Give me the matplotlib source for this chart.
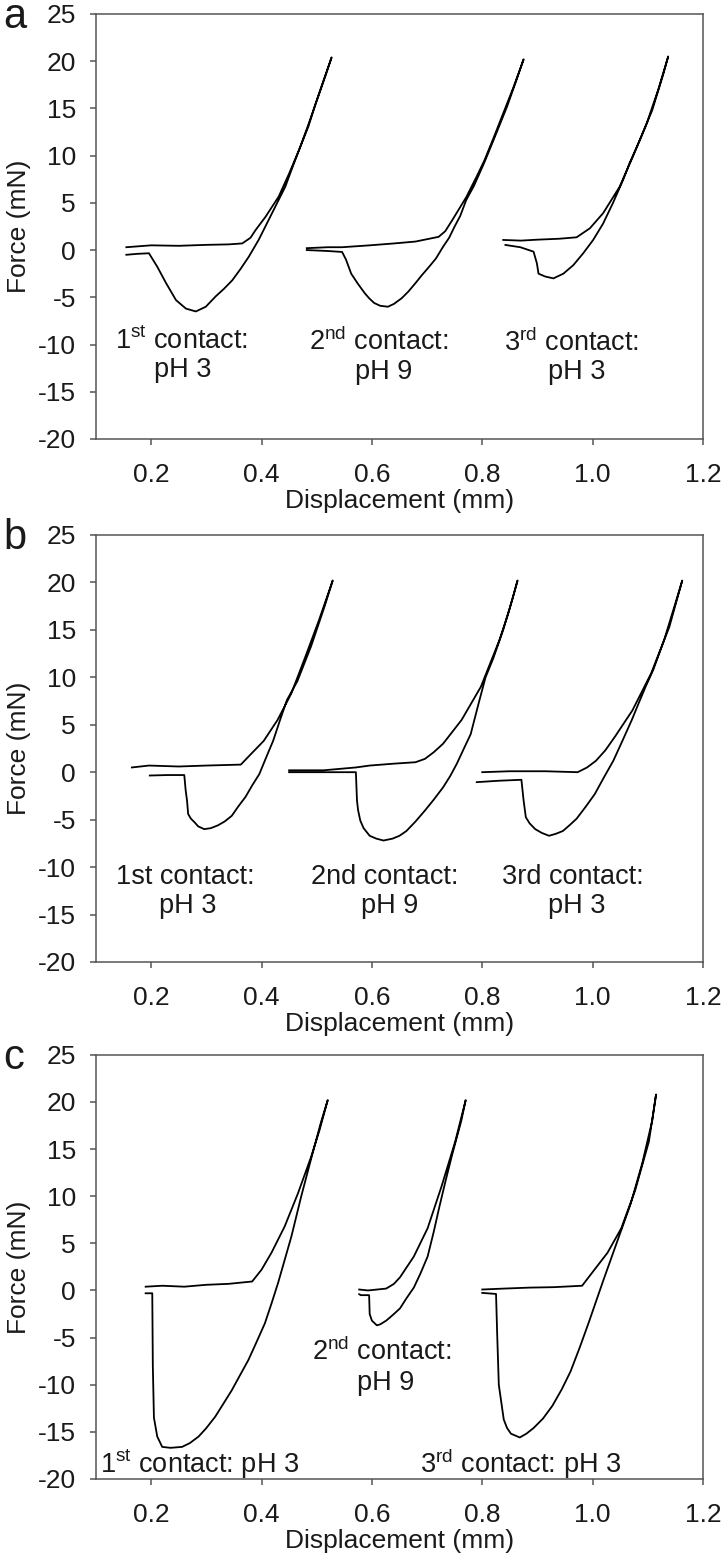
import matplotlib
matplotlib.use('Agg')
import matplotlib.pyplot as plt

plt.rcParams['font.family'] = ['Liberation Sans', 'DejaVu Sans']
plt.rcParams['mathtext.fontset'] = 'custom'
plt.rcParams['mathtext.rm'] = 'Liberation Sans'
plt.rcParams['mathtext.it'] = 'Liberation Sans:italic'
plt.rcParams['mathtext.bf'] = 'Liberation Sans:bold'
plt.rcParams['axes.unicode_minus'] = False

# each loop = approach (upper branch) then retraction (lower branch)
# panel a
a1_x = [0.155, 0.20, 0.25, 0.30, 0.34, 0.365, 0.38, 0.389, 0.407, 0.431, 0.45, 0.468, 0.485, 0.498, 0.512, 0.527,
        0.515, 0.50, 0.485, 0.47, 0.455, 0.443, 0.431, 0.419, 0.407, 0.395, 0.377, 0.362, 0.347, 0.332, 0.317,
        0.299, 0.281, 0.263, 0.245, 0.227, 0.211, 0.196, 0.175, 0.155]
a1_y = [0.3, 0.5, 0.45, 0.55, 0.6, 0.7, 1.3, 2.1, 3.5, 5.65, 8.1, 10.6, 13.1, 15.5, 17.9, 20.4,
        18.3, 15.8, 13.3, 10.9, 8.6, 6.7, 5.3, 3.9, 2.5, 1.1, -0.7, -2.0, -3.2, -4.1, -4.9,
        -6.0, -6.5, -6.2, -5.3, -3.5, -1.76, -0.34, -0.4, -0.5]
a2_x = [0.482, 0.52, 0.546, 0.596, 0.64, 0.679, 0.721, 0.733, 0.746, 0.771, 0.79, 0.804, 0.82, 0.8375, 0.857, 0.875,
        0.862, 0.845, 0.825, 0.804, 0.785, 0.771, 0.76, 0.75, 0.74, 0.729, 0.716, 0.704, 0.69, 0.679, 0.666,
        0.654, 0.64, 0.629, 0.615, 0.604, 0.595, 0.5875, 0.575, 0.5625, 0.553, 0.546, 0.52, 0.482]
a2_y = [0.2, 0.3, 0.3, 0.5, 0.7, 0.9, 1.4, 2.0, 3.2, 5.6, 7.8, 9.5, 11.8, 14.4, 17.3, 20.2,
        18.0, 15.2, 12.3, 9.3, 6.8, 5.3, 3.6, 2.5, 1.3, 0.35, -0.9, -1.75, -2.7, -3.5, -4.4,
        -5.1, -5.7, -6.0, -5.9, -5.6, -5.1, -4.6, -3.6, -2.5, -1.0, -0.2, -0.1, 0.0]
a3_x = [0.838, 0.87, 0.90, 0.94, 0.971, 0.995, 1.019, 1.049, 1.073, 1.098, 1.119, 1.137,
        1.128, 1.108, 1.086, 1.067, 1.055, 1.037, 1.019, 1.001, 0.983, 0.965, 0.947, 0.929, 0.914,
        0.902, 0.899, 0.893, 0.869, 0.842]
a3_y = [1.07, 1.0, 1.1, 1.2, 1.35, 2.3, 3.9, 6.7, 9.9, 13.4, 17.0, 20.5,
        18.6, 14.8, 11.7, 9.2, 7.4, 5.0, 2.8, 1.07, -0.34, -1.6, -2.5, -3.0, -2.8,
        -2.5, -1.4, -0.17, 0.3, 0.54]

# panel b
b1_x = [0.165, 0.196, 0.25, 0.30, 0.3625, 0.379, 0.404, 0.429, 0.454, 0.479, 0.504, 0.529,
        0.515, 0.49, 0.465, 0.446, 0.433, 0.421, 0.408, 0.396, 0.383, 0.371, 0.358, 0.346, 0.333,
        0.321, 0.308, 0.296, 0.285, 0.279, 0.272, 0.267, 0.265, 0.2625, 0.26, 0.23, 0.1975]
b1_y = [0.5, 0.7, 0.6, 0.7, 0.8, 1.8, 3.3, 5.5, 8.3, 12.1, 16.0, 20.2,
        17.6, 13.3, 9.6, 7.6, 5.4, 3.3, 1.5, -0.2, -1.4, -2.6, -3.6, -4.6, -5.2,
        -5.6, -5.9, -6.0, -5.7, -5.3, -4.9, -4.4, -3.0, -1.9, -0.3, -0.3, -0.35]
b2_x = [0.45, 0.5125, 0.571, 0.596, 0.64, 0.679, 0.696, 0.712, 0.729, 0.7625, 0.7975, 0.831, 0.848, 0.864,
        0.855, 0.838, 0.82, 0.806, 0.795, 0.787, 0.779, 0.766, 0.754, 0.742, 0.729, 0.712, 0.696, 0.679,
        0.6625, 0.65, 0.6375, 0.621, 0.608, 0.596, 0.585, 0.579, 0.575, 0.573, 0.571, 0.52, 0.45]
b2_y = [0.2, 0.2, 0.5, 0.7, 0.9, 1.05, 1.4, 2.1, 3.0, 5.5, 9.0, 13.9, 16.9, 20.2,
        18.3, 15.0, 12.0, 10.0, 7.6, 5.8, 4.0, 2.4, 0.9, -0.4, -1.6, -2.9, -4.05, -5.2,
        -6.2, -6.7, -7.0, -7.2, -7.0, -6.7, -5.9, -5.1, -4.0, -3.0, 0.0, 0.0, 0.0]
b3_x = [0.80, 0.85, 0.914, 0.973, 0.99, 1.006, 1.023, 1.04, 1.072, 1.106, 1.139, 1.1625,
        1.15, 1.13, 1.11, 1.096, 1.083, 1.071, 1.054, 1.0375, 1.02, 1.004, 0.988, 0.971, 0.958,
        0.946, 0.933, 0.921, 0.908, 0.896, 0.886, 0.879, 0.875, 0.871, 0.83, 0.79]
b3_y = [0.0, 0.1, 0.1, 0.0, 0.5, 1.2, 2.3, 3.7, 6.5, 10.4, 15.3, 20.2,
        17.8, 14.0, 10.8, 9.0, 7.2, 5.5, 3.3, 1.2, -0.6, -2.3, -3.6, -4.9, -5.6,
        -6.2, -6.5, -6.7, -6.4, -6.0, -5.4, -4.75, -3.0, -0.8, -0.9, -1.05]

# panel c
c1_x = [0.19, 0.22, 0.26, 0.30, 0.34, 0.383, 0.40, 0.418, 0.442, 0.466, 0.49, 0.505, 0.52,
        0.508, 0.49, 0.472, 0.454, 0.43, 0.418, 0.406, 0.39, 0.376, 0.36, 0.346, 0.33, 0.316,
        0.30, 0.286, 0.27, 0.256, 0.235, 0.22, 0.211, 0.205, 0.203, 0.202, 0.19]
c1_y = [0.4, 0.5, 0.4, 0.6, 0.7, 0.95, 2.2, 4.0, 6.8, 10.3, 14.2, 17.0, 20.2,
        17.9, 14.0, 10.0, 5.7, 0.8, -1.4, -3.5, -5.6, -7.4, -9.1, -10.6, -12.1, -13.4,
        -14.6, -15.5, -16.2, -16.6, -16.7, -16.6, -15.5, -13.5, -8.0, -0.3, -0.3]
c2_x = [0.577, 0.593, 0.626, 0.64, 0.651, 0.676, 0.701, 0.726, 0.751, 0.77,
        0.762, 0.745, 0.733, 0.722, 0.712, 0.701, 0.688, 0.676, 0.663, 0.651, 0.638, 0.626,
        0.615, 0.609, 0.60, 0.596, 0.595, 0.58, 0.577]
c2_y = [0.1, 0.0, 0.2, 0.7, 1.4, 3.6, 6.6, 11.0, 15.8, 20.2,
        18.0, 14.3, 11.5, 8.8, 6.2, 3.6, 1.8, 0.3, -0.8, -1.9, -2.6, -3.2,
        -3.6, -3.7, -3.2, -2.5, -0.5, -0.5, -0.4]
c3_x = [0.80, 0.84, 0.885, 0.93, 0.981, 1.002, 1.027, 1.052, 1.077, 1.102, 1.115,
        1.108, 1.09, 1.069, 1.044, 1.019, 0.993, 0.977, 0.96, 0.944, 0.927, 0.91, 0.893,
        0.88, 0.868, 0.852, 0.845, 0.839, 0.83, 0.827, 0.825, 0.80]
c3_y = [0.1, 0.2, 0.3, 0.35, 0.5, 2.1, 4.0, 6.6, 10.6, 15.8, 20.8,
        18.0, 13.5, 9.2, 5.1, 1.0, -3.4, -6.0, -8.6, -10.5, -12.25, -13.6, -14.6,
        -15.2, -15.6, -15.2, -14.6, -13.7, -10.0, -4.5, -0.37, -0.26]

panel_labels = ['a', 'b', 'c']
x_ticks = [0.2, 0.4, 0.6, 0.8, 1.0, 1.2]
x_ticklabels = ['0.2', '0.4', '0.6', '0.8', '1.0', '1.2']
y_ticks = [-20, -15, -10, -5, 0, 5, 10, 15, 20, 25]

loops = [
    [(a1_x, a1_y), (a2_x, a2_y), (a3_x, a3_y)],
    [(b1_x, b1_y), (b2_x, b2_y), (b3_x, b3_y)],
    [(c1_x, c1_y), (c2_x, c2_y), (c3_x, c3_y)],
]

gray = '#555555'
txt = '#1a1a1a'
fs = 19
afs = 19.5

fig = plt.figure(figsize=(7.25, 15.66), dpi=100)
rects = [[0.1324, 0.7197, 0.8372, 0.2714],
         [0.1324, 0.3857, 0.8372, 0.2727],
         [0.1324, 0.0556, 0.8372, 0.2708]]
axes = []
for i, r in enumerate(rects):
    ax = fig.add_axes(r)
    for (x, y) in loops[i]:
        ax.plot(x, y, color='black', lw=1.3)
    ax.set_xlim(0.1, 1.2)
    ax.set_ylim(-20, 25)
    ax.set_xticks(x_ticks)
    ax.set_xticklabels(x_ticklabels)
    ax.set_yticks(y_ticks)
    for s in ax.spines.values():
        s.set_color(gray)
        s.set_linewidth(1.1)
    ax.tick_params(direction='out', length=4.5, width=1.1, color=gray, labelcolor=txt,
                   labelsize=fs, top=False, right=False)
    ax.tick_params(axis='y', pad=10)
    ax.tick_params(axis='x', pad=13)
    ax.set_xlabel('Displacement (mm)', fontsize=fs, color=txt, labelpad=1)
    ax.set_ylabel('Force (mN)', fontsize=fs, color=txt, labelpad=5)
    fig.text(0.004, r[1] + r[3] - 14 / 1566, panel_labels[i], fontsize=30, color=txt,
             ha='left', va='baseline')
    axes.append(ax)

ax_a, ax_b, ax_c = axes
kw = dict(fontsize=afs, color=txt, ha='center', va='baseline')
ax_a.text(0.255, -10.5, r'1$^{\rm st}$ contact:', **kw)
ax_a.text(0.258, -13.4, 'pH 3', **kw)
ax_a.text(0.6125, -10.6, r'2$^{\rm nd}$ contact:', **kw)
ax_a.text(0.621, -13.6, 'pH 9', **kw)
ax_a.text(0.9625, -10.7, r'3$^{\rm rd}$ contact:', **kw)
ax_a.text(0.971, -13.6, 'pH 3', **kw)

ax_b.text(0.2625, -11.8, '1st contact:', **kw)
ax_b.text(0.2667, -14.8, 'pH 3', **kw)
ax_b.text(0.624, -11.8, '2nd contact:', **kw)
ax_b.text(0.633, -14.8, 'pH 9', **kw)
ax_b.text(0.9646, -11.8, '3rd contact:', **kw)
ax_b.text(0.971, -14.8, 'pH 3', **kw)

ax_c.text(0.108, -19.4, r'1$^{\rm st}$ contact: pH 3', fontsize=afs, color=txt, ha='left', va='baseline')
ax_c.text(0.617, -7.4, r'2$^{\rm nd}$ contact:', **kw)
ax_c.text(0.625, -10.6, 'pH 9', **kw)
ax_c.text(0.87, -19.4, r'3$^{\rm rd}$ contact: pH 3', **kw)

fig.savefig('out.png', dpi=100)
